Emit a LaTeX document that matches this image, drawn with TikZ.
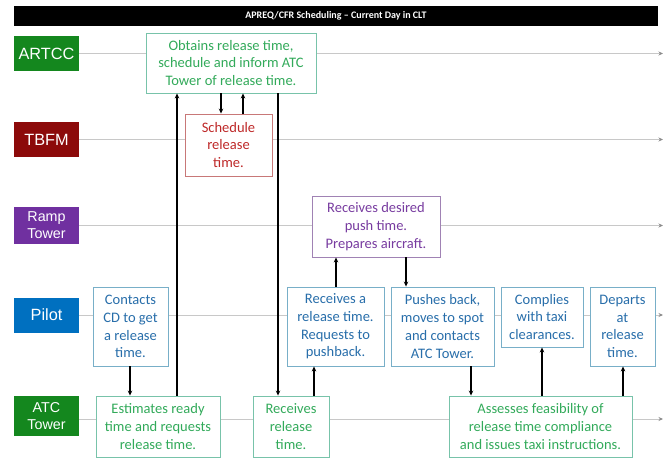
\documentclass[tikz,border=0pt]{standalone}
\usepackage{fontspec}
\setmainfont{Carlito}
\newfontfamily\labfont{Liberation Sans}
\usetikzlibrary{arrows.meta,backgrounds}
\definecolor{lgreen}{RGB}{20,135,30}
\definecolor{lred}{RGB}{140,10,10}
\definecolor{lpurple}{RGB}{112,48,160}
\definecolor{lblue}{RGB}{0,112,192}
\definecolor{tgreen}{RGB}{50,170,90}
\definecolor{bgreen}{RGB}{120,195,170}
\definecolor{tred}{RGB}{190,40,40}
\definecolor{bred}{RGB}{200,120,120}
\definecolor{tpurple}{RGB}{120,60,160}
\definecolor{bpurple}{RGB}{160,130,180}
\definecolor{tblue}{RGB}{40,110,170}
\definecolor{bblue}{RGB}{120,175,200}
\definecolor{lanegray}{RGB}{200,200,200}
\definecolor{tipgray}{RGB}{140,140,140}
\tikzset{
  lanelabel/.style={fill=#1, text=white, minimum width=65pt, minimum height=35pt, inner sep=0pt, align=center, font=\labfont\fontsize{16.3}{18}\selectfont},
  lanelabelsmall/.style={fill=#1, text=white, minimum width=65pt, minimum height=37pt, inner sep=0pt, align=center, font=\labfont\fontsize{14.3}{17}\selectfont},
  stepbox/.style={draw=b#1, text=t#1, fill=white, line width=0.9pt, inner sep=0pt, align=center, font=\fontsize{14.5}{17.7}\selectfont},
  laneline/.style={draw=lanegray, line width=0.8pt, -{Stealth[length=4.5pt,width=4pt,color=tipgray]}},
  arr/.style={draw=black, line width=1.3pt, -{Stealth[length=5pt,width=4.5pt]}},
}
\begin{document}
\begin{tikzpicture}[x=1pt,y=-1pt]
\useasboundingbox (0,0) rectangle (670,461);
% title bar
\node[fill=black, text=white, minimum width=644pt, minimum height=20pt, inner sep=0pt, font=\bfseries\fontsize{10}{12}\selectfont] (title) at (336,16) {APREQ/CFR Scheduling – Current Day in CLT};
% lane labels
\node[lanelabel=lgreen] (artcc) at (46.5,53.5) {ARTCC};
\node[lanelabel=lred] (tbfm) at (46.5,139.5) {TBFM};
\node[lanelabelsmall=lpurple] (rampl) at (46.5,225.5) {Ramp\\Tower};
\node[lanelabel=lblue] (pilot) at (46.5,315) {Pilot};
\node[lanelabelsmall=lgreen, minimum height=40pt] (atc) at (46.5,416) {ATC\\Tower};
\coordinate (endx) at (663,0);
% boxes
\node[stepbox=green, minimum width=170pt, minimum height=60pt] (obt) at (231,63) {Obtains release time,\\schedule and inform ATC\\Tower of release time.};
\node[stepbox=red, minimum width=87pt, minimum height=62pt] (sched) at (228.5,145) {Schedule\\release\\time.};
\node[stepbox=purple, minimum width=128pt, minimum height=61pt] (ramp) at (376,226.5) {Receives desired\\push time.\\Prepares aircraft.};
\node[stepbox=blue, minimum width=75pt, minimum height=79pt] (contacts) at (130.5,326.5) {Contacts\\CD to get\\a release\\time.};
\node[stepbox=blue, minimum width=97pt, minimum height=79pt] (recv) at (335.5,326.5) {Receives a\\release time.\\Requests to\\pushback.};
\node[stepbox=blue, minimum width=103pt, minimum height=79pt] (push) at (442.5,326.5) {Pushes back,\\moves to spot\\and contacts\\ATC Tower.};
\node[stepbox=blue, minimum width=82pt, minimum height=60pt] (comply) at (542,317) {Complies\\with taxi\\clearances.};
\node[stepbox=blue, minimum width=65pt, minimum height=79pt] (depart) at (622.5,326.5) {Departs\\at\\release\\time.};
\node[stepbox=green, minimum width=124pt, minimum height=61pt] (est) at (158,426.5) {Estimates ready\\time and requests\\release time.};
\node[stepbox=green, minimum width=76pt, minimum height=61pt] (rrt) at (291,426.5) {Receives\\release\\time.};
\node[stepbox=green, minimum width=183pt, minimum height=61pt] (assess) at (540.5,426.5) {Assesses feasibility of\\release time compliance\\and issues taxi instructions.};
% lane lines
\begin{scope}[on background layer]
\draw[laneline] (artcc.east) -- (artcc.east -| endx);
\draw[laneline] (tbfm.east) -- (tbfm.east -| endx);
\draw[laneline] (rampl.east) -- (rampl.east -| endx);
\draw[laneline] (pilot.east) -- (pilot.east -| endx);
\draw[laneline] ([yshift=-3pt]atc.east) -- ([yshift=-3pt]atc.east -| endx);
\end{scope}
% column coordinates
\coordinate (k1) at (130,0);
\coordinate (k2) at (177,0);
\coordinate (k3) at (221,0);
\coordinate (k4) at (243,0);
\coordinate (k5) at (278,0);
\coordinate (k6) at (314,0);
\coordinate (k7) at (336,0);
\coordinate (k8) at (406,0);
\coordinate (k9) at (471,0);
\coordinate (k10) at (542,0);
\coordinate (k11) at (623,0);
% arrows
\draw[arr] (contacts.south -| k1) -- (est.north -| k1);
\draw[arr] (est.north -| k2) -- (obt.south -| k2);
\draw[arr] (obt.south -| k3) -- (sched.north -| k3);
\draw[arr] (sched.north -| k4) -- (obt.south -| k4);
\draw[arr] (obt.south -| k5) -- (rrt.north -| k5);
\draw[arr] (rrt.north -| k6) -- (recv.south -| k6);
\draw[arr] (recv.north -| k7) -- (ramp.south -| k7);
\draw[arr] (ramp.south -| k8) -- (push.north -| k8);
\draw[arr] (push.south -| k9) -- (assess.north -| k9);
\draw[arr] (assess.north -| k10) -- (comply.south -| k10);
\draw[arr] (assess.north -| k11) -- (depart.south -| k11);
\end{tikzpicture}
\end{document}
